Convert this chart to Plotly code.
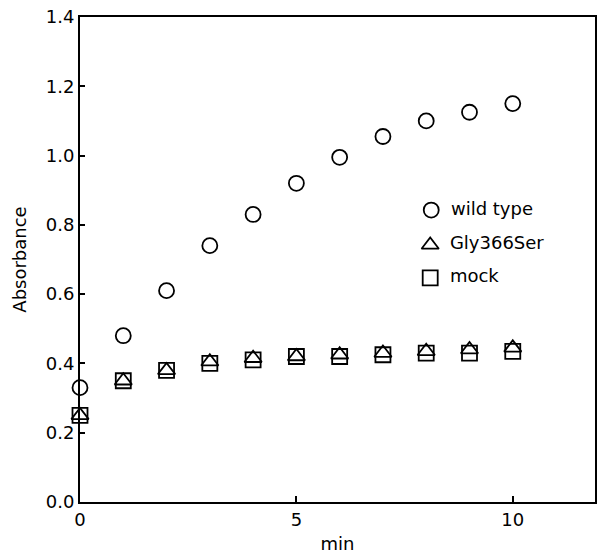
import plotly.graph_objects as go

minutes = [0, 1, 2, 3, 4, 5, 6, 7, 8, 9, 10]
wild_type = [0.33, 0.48, 0.61, 0.74, 0.83, 0.92, 0.995, 1.055, 1.10, 1.125, 1.15]
gly366ser = [0.25, 0.35, 0.38, 0.405, 0.415, 0.42, 0.425, 0.43, 0.435, 0.44, 0.445]
mock = [0.25, 0.35, 0.38, 0.40, 0.41, 0.42, 0.42, 0.425, 0.43, 0.43, 0.435]
series_names = ["wild type", "Gly366Ser", "mock"]
x_ticks = [0, 5, 10]
y_ticks = [0.0, 0.2, 0.4, 0.6, 0.8, 1.0, 1.2, 1.4]

font = "DejaVu Sans, Liberation Sans, Arial, sans-serif"
fs = 18
symbols = ["circle-open", "triangle-up-open", "square-open"]
fig = go.Figure()
for name, ys, sym in zip(series_names, [wild_type, gly366ser, mock], symbols):
    fig.add_trace(go.Scatter(x=minutes, y=ys, mode="markers", name=name,
                             showlegend=False,
                             marker=dict(symbol=sym, size=15, color="black",
                                         line=dict(width=1.8, color="black")),
                             cliponaxis=False))

# legend drawn on an overlay axis in plot fractions
leg_x = [0.682, 0.680, 0.680]
leg_y = [0.602, 0.530, 0.462]
for name, sym, lx, ly in zip(series_names, symbols, leg_x, leg_y):
    fig.add_trace(go.Scatter(x=[lx], y=[ly], xaxis="x2", yaxis="y2",
                             mode="markers+text", text=["\u00a0\u2009" + name],
                             textposition="middle right",
                             textfont=dict(size=fs, color="black"),
                             showlegend=False, hoverinfo="skip",
                             marker=dict(symbol=sym, size=15, color="black",
                                         line=dict(width=1.8, color="black"))))

fig.update_layout(
    width=600, height=554,
    margin=dict(l=80, r=5, t=17, b=52),
    paper_bgcolor="white", plot_bgcolor="white",
    font=dict(family=font, size=fs, color="black"),
    showlegend=False,
    xaxis=dict(range=[0, 11.9], tickvals=x_ticks, ticks="inside", ticklen=6,
               tickcolor="black", tickwidth=1.5, showgrid=False, zeroline=False,
               showline=True, linecolor="black", linewidth=2, mirror=True,
               automargin=False,
               title=dict(text="min", font=dict(size=fs), standoff=9)),
    yaxis=dict(range=[0, 1.4], tickvals=y_ticks, tickformat=".1f", ticks="inside",
               ticklen=5, tickcolor="black", tickwidth=1.5, showgrid=False,
               zeroline=False, showline=True, linecolor="black", linewidth=2,
               mirror=True, automargin=False,
               title=dict(text="Absorbance", font=dict(size=fs), standoff=14)),
    xaxis2=dict(range=[0, 1], overlaying="x", visible=False, fixedrange=True),
    yaxis2=dict(range=[0, 1], overlaying="y", visible=False, fixedrange=True),
)
fig.write_html("out.html", config={"displayModeBar": False},
               post_script="document.body.style.margin='0';document.body.style.overflow='hidden';")
